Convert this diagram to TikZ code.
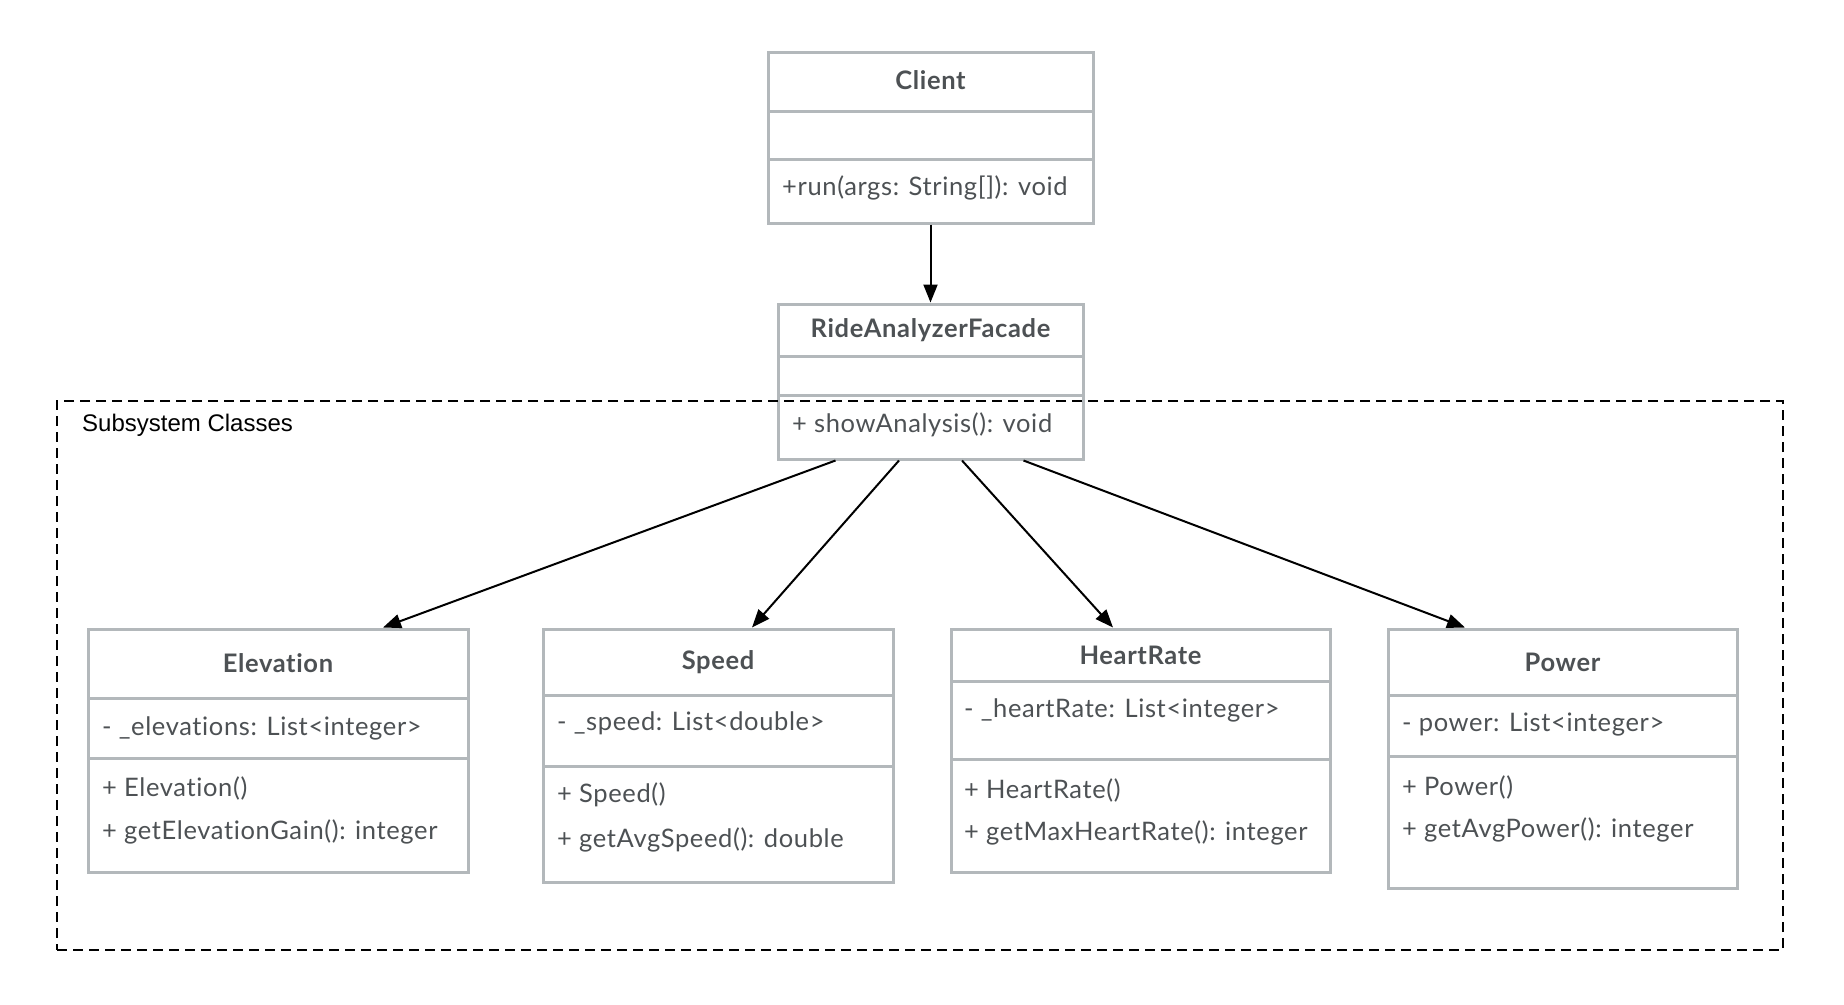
\documentclass[tikz,border=0pt]{standalone}
\usepackage{fontspec}
\setmainfont{Lato}[LetterSpace=2.5, Ligatures=NoCommon]
\newfontfamily\labelfont{Liberation Sans}
\usepackage{xcolor}
\usetikzlibrary{arrows.meta}

\definecolor{umlgray}{HTML}{B3B8BB}
\definecolor{umltextgray}{HTML}{4D5154}

\tikzset{
	umlclass/.style={draw=umlgray, line width=3pt, fill=white, rectangle, inner sep=0pt},
	umlline/.style={draw=umlgray, line width=3pt},
	umltitle/.style={inner sep=0pt, text=umltextgray, font=\fontsize{25.5}{30}\selectfont\bfseries},
	umltext/.style={inner sep=0pt, anchor=west, text=umltextgray, font=\fontsize{25.5}{30}\selectfont},
	umlarrow/.style={line width=2pt, -{Triangle[length=18pt, width=14pt]}},
}

\begin{document}
\begin{tikzpicture}[x=1pt, y=-1pt]
	\useasboundingbox (0,0) rectangle (1844,1004);

	% Client and facade
	\node[umlclass, minimum width=325pt, minimum height=171pt] (client) at (930.5, 137.5) {};
	\draw[umlline] (768, 111) -- (1093, 111);
	\draw[umlline] (768, 159) -- (1093, 159);
	\node[umltitle] (clientname) at (930.5, 80) {Client};
	\node[umltext] (clientrun) at (782, 188) {+run(args: String[]): void};

	\node[umlclass, minimum width=305pt, minimum height=155pt] (raf) at (930.5, 381.5) {};
	\draw[umlline] (778, 356) -- (1083, 356);
	\draw[umlline] (778, 395) -- (1083, 395);
	\node[umltitle] (rafname) at (930.5, 330) {RideAnalyzerFacade};
	\node[umltext] (rafshow) at (792, 425) {+ showAnalysis(): void};

	% Subsystem classes
	\node[umlclass, minimum width=380pt, minimum height=243pt] (elev) at (278, 750.5) {};
	\draw[umlline] (88, 698) -- (468, 698);
	\draw[umlline] (88, 758) -- (468, 758);
	\node[umltitle] (elevname) at (278, 663) {Elevation};
	\node[umltext] (elevattr) at (102, 728) {- \_elevations: List<integer>};
	\node[umltext] (elevctor) at (102, 788) {+ Elevation()};
	\node[umltext] (elevgain) at (102, 832) {+ getElevationGain(): integer};

	\node[umlclass, minimum width=350pt, minimum height=253pt] (speed) at (718, 755.5) {};
	\draw[umlline] (543, 695) -- (893, 695);
	\draw[umlline] (543, 766) -- (893, 766);
	\node[umltitle] (speedname) at (718, 662) {Speed};
	\node[umltext] (speedattr) at (557, 723) {- \_speed: List<double>};
	\node[umltext] (speedctor) at (557, 795) {+ Speed()};
	\node[umltext] (speedavg) at (557, 840) {+ getAvgSpeed(): double};

	\node[umlclass, minimum width=379pt, minimum height=243pt] (heart) at (1140.5, 750.5) {};
	\draw[umlline] (951, 681) -- (1330, 681);
	\draw[umlline] (951, 759) -- (1330, 759);
	\node[umltitle] (heartname) at (1140.5, 655) {HeartRate};
	\node[umltext] (heartattr) at (964, 710) {- \_heartRate: List<integer>};
	\node[umltext] (heartctor) at (964, 790) {+ HeartRate()};
	\node[umltext] (heartmax) at (964, 833) {+ getMaxHeartRate(): integer};

	\node[umlclass, minimum width=349pt, minimum height=259pt] (power) at (1562.5, 758.5) {};
	\draw[umlline] (1388, 695) -- (1737, 695);
	\draw[umlline] (1388, 756) -- (1737, 756);
	\node[umltitle] (powername) at (1562.5, 662) {Power};
	\node[umltext] (powerattr) at (1402, 725) {- power: List<integer>};
	\node[umltext] (powerctor) at (1402, 787) {+ Power()};
	\node[umltext] (poweravg) at (1402, 830) {+ getAvgPower(): integer};

	% Subsystem frame
	\node[draw, dash pattern=on 10pt off 6pt, line width=2pt, minimum width=1726pt, minimum height=549pt, inner sep=0pt] (subsystem) at (920, 675.5) {};
	\node[inner sep=0pt, anchor=west, font=\labelfont\fontsize{24}{28}\selectfont] (subsystemlabel) at (82, 425) {Subsystem Classes};

	% Draw the associations
	\draw[umlarrow] (client) -- (raf);
	\draw[umlarrow] ([xshift=-95pt]raf.south) -- ([xshift=105pt]elev.north);
	\draw[umlarrow] ([xshift=-31.5pt]raf.south) -- ([xshift=34pt]speed.north);
	\draw[umlarrow] ([xshift=31.5pt]raf.south) -- ([xshift=-27.5pt]heart.north);
	\draw[umlarrow] ([xshift=93pt]raf.south) -- ([xshift=-97.5pt]power.north);
\end{tikzpicture}
\end{document}
